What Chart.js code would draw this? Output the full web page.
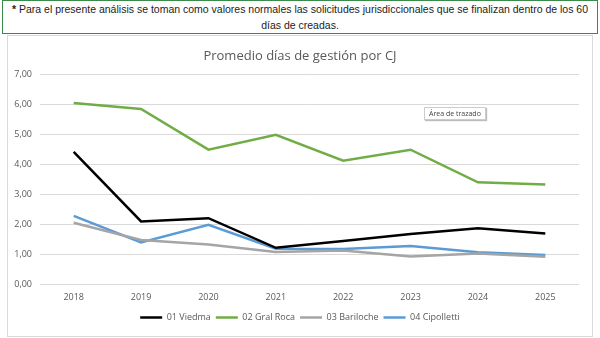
<!DOCTYPE html>
<html>
<head>
<meta charset="utf-8">
<script src="https://cdn.jsdelivr.net/npm/chart.js@4/dist/chart.umd.min.js"></script>
<style>
  body { margin: 0; width: 600px; height: 338px; background: #fff; position: relative; overflow: hidden; font-family: "Open Sans", sans-serif; }
  #note { position: absolute; left: 2px; top: 0; width: 594px; height: 32px; border: 1px solid #3a8a4a; background: #fff;
          font-family: "Liberation Sans", sans-serif; font-size: 10.5px; line-height: 16px; text-align: center; color: #222;
          white-space: nowrap; z-index: 2; }
  #frame { position: absolute; left: 7px; top: 35px; width: 584px; height: 300px; border: 1px solid #d9d9d9; }
  #wrap { position: absolute; left: 0; top: 0; width: 600px; height: 338px; }
  #tip { position: absolute; left: 424px; top: 107px; padding: 1px 4px; font-size: 7px; color: #444; background: #fff;
         border: 1px solid #ccc; box-shadow: 1px 1px 1px #bbb; z-index: 3; }
</style>
</head>
<body>
<div id="note"><b>*</b> Para el presente análisis se toman como valores normales las solicitudes jurisdiccionales que se finalizan dentro de los 60<br>días de creadas.</div>
<div id="frame"></div>
<div id="wrap"><canvas id="chart" width="600" height="338"></canvas></div>
<div id="tip">Área de trazado</div>
<script>
var years = ['2018', '2019', '2020', '2021', '2022', '2023', '2024', '2025'];
var viedma = [4.42, 2.09, 2.20, 1.21, 1.44, 1.67, 1.86, 1.69];
var gralRoca = [6.05, 5.85, 4.49, 4.99, 4.12, 4.49, 3.40, 3.33];
var bariloche = [2.05, 1.47, 1.32, 1.07, 1.12, 0.92, 1.02, 0.91];
var cipolletti = [2.28, 1.39, 1.98, 1.18, 1.17, 1.27, 1.06, 0.97];

function serie(label, data, color) {
  return {
    label: label,
    data: data,
    borderColor: color,
    backgroundColor: color,
    borderWidth: 2.5,
    pointRadius: 0,
    tension: 0,
    fill: false
  };
}

var font = 'Open Sans';

new Chart(document.getElementById('chart').getContext('2d'), {
  type: 'line',
  data: {
    labels: years,
    datasets: [
      serie('01 Viedma', viedma, '#000000'),
      serie('02 Gral Roca', gralRoca, '#70AD47'),
      serie('03 Bariloche', bariloche, '#A5A5A5'),
      serie('04 Cipolletti', cipolletti, '#5B9BD5')
    ]
  },
  options: {
    responsive: false,
    animation: false,
    layout: { padding: { left: 12, right: 12, top: 36, bottom: 6 } },
    plugins: {
      title: {
        display: true,
        text: 'Promedio días de gestión por CJ',
        color: '#595959',
        font: { family: font, size: 13, weight: 'normal' },
        padding: { top: 12, bottom: 11 }
      },
      legend: {
        position: 'bottom',
        labels: {
          color: '#595959',
          font: { family: font, size: 9 },
          usePointStyle: true,
          pointStyle: 'line',
          pointStyleWidth: 22,
          boxHeight: 8,
          padding: 5
        }
      },
      tooltip: { enabled: false }
    },
    scales: {
      x: {
        offset: true,
        grid: { display: false },
        border: { display: false },
        ticks: { color: '#595959', font: { family: font, size: 9 }, padding: 0 },
        afterFit: function(scale) { scale.height = 24; }
      },
      y: {
        min: 0,
        max: 7,
        grid: { color: '#d9d9d9', drawTicks: false },
        border: { display: false },
        ticks: {
          stepSize: 1,
          color: '#595959',
          font: { family: font, size: 9 },
          padding: 8,
          callback: function(v) { return v.toFixed(2).replace('.', ','); }
        },
        afterFit: function(scale) { scale.width = 28; }
      },
      // empty right-side spacer so the plot ends where the original does
      y2: {
        position: 'right',
        min: 0,
        max: 7,
        grid: { display: false },
        border: { display: false },
        ticks: { display: false },
        afterFit: function(scale) { scale.width = 9; }
      }
    }
  }
});
</script>
</body>
</html>
